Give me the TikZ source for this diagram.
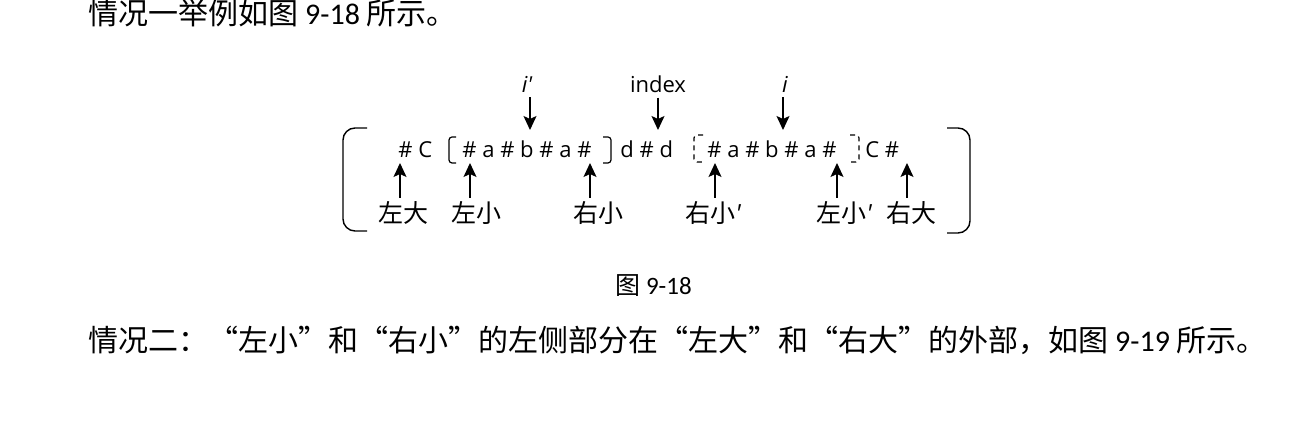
\documentclass[tikz,border=0pt]{standalone}
\usepackage{fontspec}
\setmainfont{Carlito}
\newfontfamily\cjk{Noto Sans CJK SC}
\newfontfamily\latf{Open Sans}[Ligatures=TeXOff]
\usetikzlibrary{arrows.meta}
\tikzset{arr/.style = {-{Stealth[length=7pt, width=6.5pt, inset=1.5pt]}, line width=0.7pt}}
\tikzset{row/.style = {anchor=base west, inner sep=0, font=\latf\fontsize{11}{13}\selectfont}}
\tikzset{lbl/.style = {anchor=base west, inner sep=2pt, font=\cjk\fontsize{12.5}{14}\selectfont}}
\tikzset{ptr/.style = {anchor=base, inner sep=2pt, font=\latf\fontsize{11}{13}\selectfont}}
\tikzset{brk/.style = {line width=0.6pt, rounded corners=1.5pt}}
\tikzset{dbrk/.style = {brk, dash pattern=on 2.5pt off 2pt}}
\tikzset{big/.style = {line width=0.7pt, rounded corners=6pt}}
\tikzset{para/.style = {anchor=base west, inner sep=0, font=\fontsize{15}{18}\selectfont}}

\begin{document}
\begin{tikzpicture}[x=0.5pt, y=-0.5pt]
    \useasboundingbox (0, 0) rectangle (1308, 426);

    % text around the figure
    \node [para] (intro) at (88, 25) {{\cjk 情况一举例如图} 9-18 {\cjk 所示。}};
    \node [para] (next) at (88, 352) {{\cjk 情况二：“左小”和“右小”的左侧部分在“左大”和“右大”的外部，如图} 9-19 {\cjk 所示。}};
    \node [anchor=base west, inner sep=0, font=\fontsize{12.5}{15}\selectfont] (cap) at (615, 295) {{\cjk 图} 9-18};

    % the string
    \node [row] (sA) at (398, 158) {\# C};
    \node [row] (sB) at (462, 158) {\# a \# b \# a \#};
    \node [row] (sC) at (620, 158) {d \# d};
    \node [row] (sD) at (707, 158) {\# a \# b \# a \#};
    \node [row] (sE) at (865, 158) {C \#};

    % brackets
    \draw [big] (367, 128) -- (343, 128) -- (343, 231) -- (367, 231);
    \draw [big] (947, 128) -- (970, 128) -- (970, 233) -- (947, 233);
    \draw [brk] (456, 137) -- (449, 137) -- (449, 163) -- (456, 163);
    \draw [brk] (603, 137) -- (611, 137) -- (611, 163) -- (603, 163);
    \draw [dbrk] (703, 135) -- (694, 135) -- (694, 162) -- (703, 162);
    \draw [dbrk] (850, 135) -- (859, 135) -- (859, 162) -- (850, 162);

    % pointers from above
    \node [ptr] (ip) at (527, 93) {\itshape i'};
    \node [ptr] (idx) at (658, 93) {index};
    \node [ptr] (ii) at (785, 93) {\itshape i};
    \coordinate (tip) at (530, 130);
    \coordinate (tidx) at (658, 130);
    \coordinate (tii) at (783, 130);
    \draw [arr] (ip.south -| tip) -- (tip);
    \draw [arr] (idx.south -| tidx) -- (tidx);
    \draw [arr] (ii.south -| tii) -- (tii);

    % pointers from below
    \node [lbl] (lzd) at (374, 223) {左大};
    \node [lbl] (lzx) at (447, 223) {左小};
    \node [lbl] (lyx) at (569, 223) {右小};
    \node [lbl] (lyx2) at (681, 223) {右小{\latf\itshape '}};
    \node [lbl] (lzx2) at (812, 223) {左小{\latf\itshape '}};
    \node [lbl] (lyd) at (882, 223) {右大};
    \coordinate (tzd) at (400, 163);
    \coordinate (tzx) at (470, 163);
    \coordinate (tyx) at (590, 163);
    \coordinate (tyx2) at (715, 163);
    \coordinate (tzx2) at (837, 163);
    \coordinate (tyd) at (907, 163);
    \draw [arr] (lzd.north -| tzd) -- (tzd);
    \draw [arr] (lzx.north -| tzx) -- (tzx);
    \draw [arr] (lyx.north -| tyx) -- (tyx);
    \draw [arr] (lyx2.north -| tyx2) -- (tyx2);
    \draw [arr] (lzx2.north -| tzx2) -- (tzx2);
    \draw [arr] (lyd.north -| tyd) -- (tyd);
  \end{tikzpicture}
\end{document}
